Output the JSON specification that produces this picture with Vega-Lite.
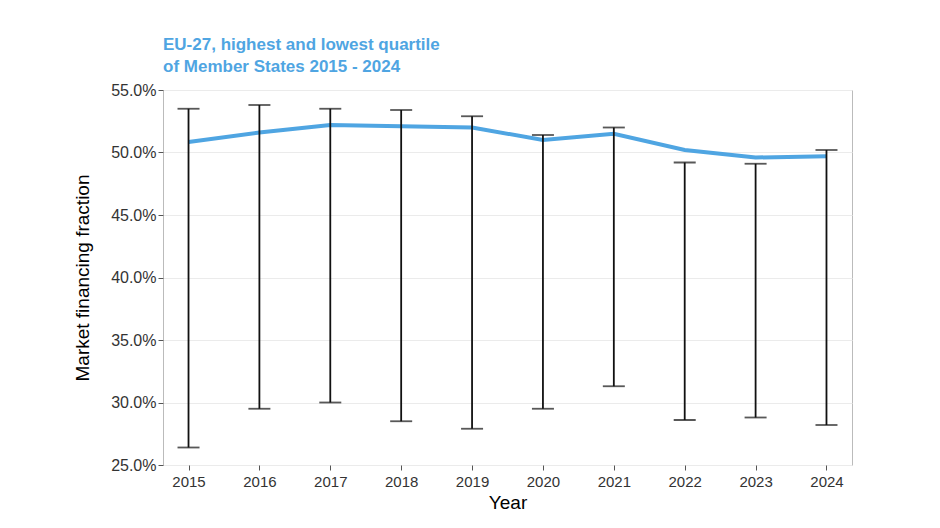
{
"$schema":"https://vega.github.io/schema/vega-lite/v6.json",
"width":689,"height":375,
"autosize":{"type":"none"},
"padding":{"left":163,"top":90,"right":88,"bottom":63},
"background":"white",
"title":{"text":["EU-27, highest and lowest quartile"," of Member States 2015 - 2024"],"anchor":"start","frame":"group","color":"#4fa5e2","font":"Liberation Sans","fontSize":17,"fontWeight":"bold","offset":6,"lineHeight":22},
"config":{"view":{"stroke":"#bbbbbb"},"axis":{"labelFont":"Liberation Sans","titleFont":"Liberation Sans","labelFontSize":15,"titleFontSize":19,"titleFontWeight":"normal","labelColor":"#333","titleColor":"#000","gridColor":"#ebebeb","domain":false,"tickColor":"#555"}},
"data":{"values":[
{"year":"2015","v":50.84,"lo":26.4,"hi":53.5},
{"year":"2016","v":51.6,"lo":29.5,"hi":53.8},
{"year":"2017","v":52.2,"lo":30.0,"hi":53.5},
{"year":"2018","v":52.1,"lo":28.5,"hi":53.4},
{"year":"2019","v":52.0,"lo":27.9,"hi":52.9},
{"year":"2020","v":51.0,"lo":29.5,"hi":51.4},
{"year":"2021","v":51.5,"lo":31.3,"hi":52.0},
{"year":"2022","v":50.2,"lo":28.6,"hi":49.2},
{"year":"2023","v":49.6,"lo":28.8,"hi":49.1},
{"year":"2024","v":49.7,"lo":28.2,"hi":50.2}
]},
"encoding":{"x":{"field":"year","type":"ordinal","scale":{"type":"point","padding":0.36},"axis":{"title":"Year","labelAngle":0,"grid":false,"labelPadding":4,"titlePadding":4}}},
"layer":[
{"mark":{"type":"line","color":"#4fa5e2","strokeWidth":4},
 "encoding":{"y":{"field":"v","type":"quantitative","scale":{"domain":[25,55],"nice":false,"zero":false},"axis":{"title":"Market financing fraction","labelFontSize":16,"values":[25,30,35,40,45,50,55],"labelExpr":"format(datum.value,'.1f')+'%'","titlePadding":18}}}},
{"mark":{"type":"rule","color":"#111","strokeWidth":1.8},
 "encoding":{"y":{"field":"lo","type":"quantitative"},"y2":{"field":"hi"}}},
{"mark":{"type":"tick","color":"#111","thickness":1.8,"size":22},"encoding":{"y":{"field":"lo","type":"quantitative"}}},
{"mark":{"type":"tick","color":"#111","thickness":1.8,"size":22},"encoding":{"y":{"field":"hi","type":"quantitative"}}}
]
}
